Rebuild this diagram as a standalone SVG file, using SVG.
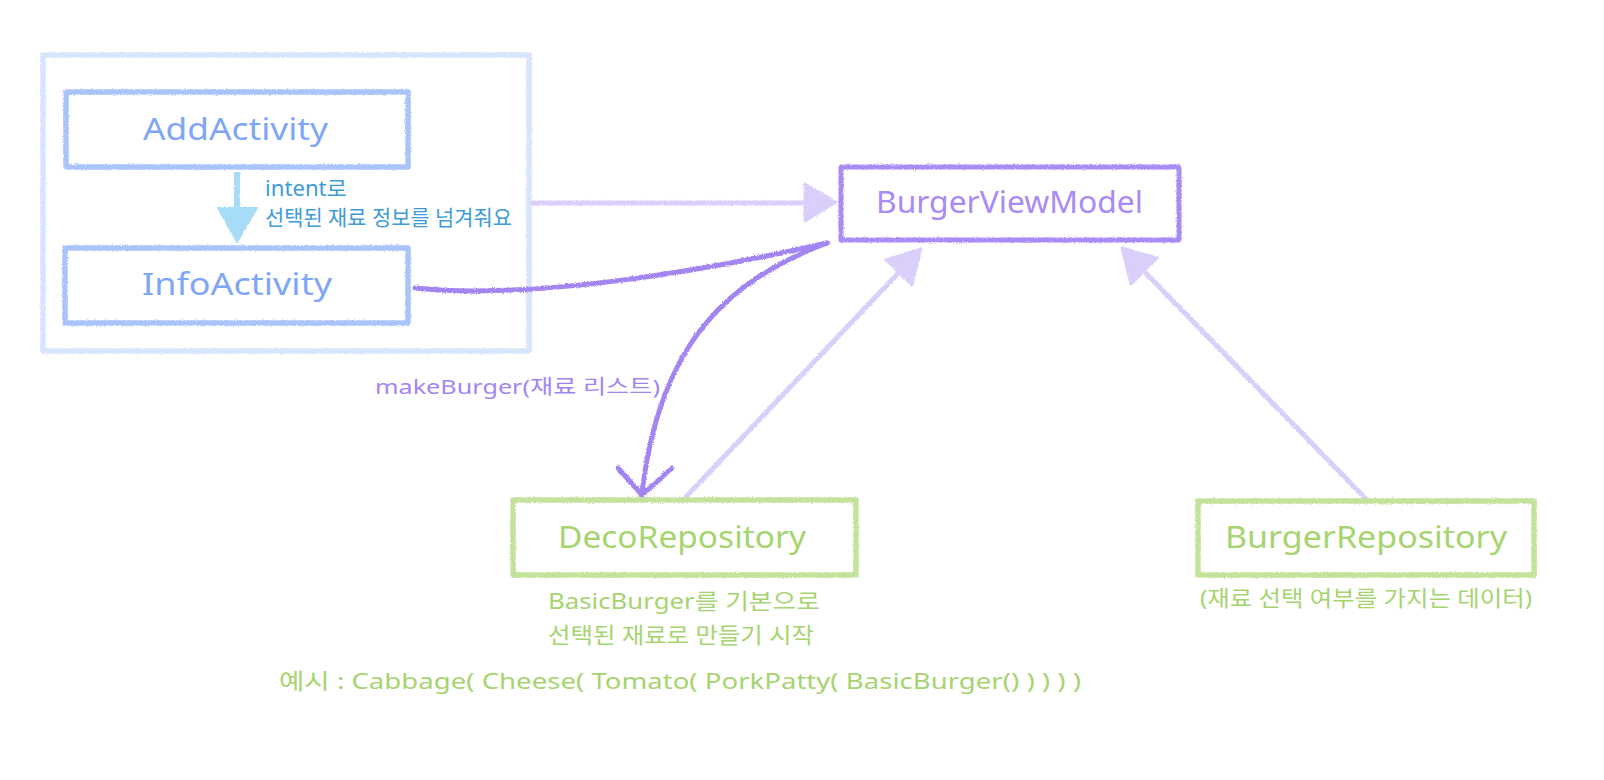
<svg xmlns="http://www.w3.org/2000/svg" width="1604" height="780" viewBox="0 0 1604 780">
<defs>
  <filter id="rough" filterUnits="userSpaceOnUse" x="0" y="0" width="1604" height="780">
    <feTurbulence type="fractalNoise" baseFrequency="0.9" numOctaves="2" seed="4" result="n"/>
    <feDisplacementMap in="SourceGraphic" in2="n" scale="3" xChannelSelector="R" yChannelSelector="G"/>
  </filter>
  <style>
    .box { fill: none; stroke-width: 5.5; stroke-linejoin: round; }
    .container { stroke: #d7e5fc; }
    .act { stroke: #a9c4fa; }
    .vm { stroke: #a88bf4; stroke-width: 5; }
    .repo { stroke: #c3e29c; }
    .t { font-family: "Noto Sans", "Noto Sans CJK KR", sans-serif; }
    .lbl-act { fill: #7fa6f6; font-size: 31px; }
    .lbl-vm { fill: #a88bf4; font-size: 31px; }
    .lbl-repo { fill: #a6d470; font-size: 31px; }
    .note-blue { fill: #3e9bd7; font-size: 21px; }
    .note-purple { fill: #a385f2; font-size: 20px; }
    .note-green { fill: #a6d470; font-size: 22px; }
    .light { stroke: #dacefb; stroke-width: 5; fill: none; stroke-linecap: round; }
    .lighthead { fill: #dacefb; stroke: #dacefb; stroke-width: 3; stroke-linejoin: round; }
    .strong { stroke: #a385f2; stroke-width: 5; fill: none; stroke-linecap: round; stroke-linejoin: round; }
  </style>
</defs>

<g id="container" filter="url(#rough)">
  <rect class="box container" x="43" y="55" width="486" height="296"/>
</g>

<g id="connectors" filter="url(#rough)">
  <!-- AddActivity -> InfoActivity -->
  <line x1="237" y1="172" x2="237" y2="214" stroke="#a6dcf7" stroke-width="6"/>
  <polygon points="218,208 257,208 237,242" fill="#a6dcf7" stroke="#a6dcf7" stroke-width="2" stroke-linejoin="round"/>
  <!-- container -> BurgerViewModel -->
  <line class="light" x1="533" y1="203" x2="812" y2="203"/>
  <polygon class="lighthead" points="836,202 805,184 805,221"/>
  <!-- DecoRepository -> BurgerViewModel -->
  <line class="light" x1="683" y1="500" x2="905" y2="266"/>
  <polygon class="lighthead" points="921,249 912,285 886,260"/>
  <!-- BurgerRepository -> BurgerViewModel -->
  <line class="light" x1="1367" y1="500" x2="1138" y2="265"/>
  <polygon class="lighthead" points="1122,248 1157,258 1131,284"/>
  <!-- InfoActivity -> BurgerViewModel (curve) -->
  <path class="strong" d="M415,288 C530,300 700,272 827,243"/>
  <!-- BurgerViewModel -> DecoRepository (makeBurger) -->
  <path class="strong" d="M827,243 C730,280 660,340 642,493"/>
  <polyline class="strong" points="618,468 642,495 672,468"/>
</g>

<g id="AddActivity">
  <g filter="url(#rough)"><rect class="box act" x="66" y="92" width="342" height="75"/></g>
  <text class="t lbl-act" x="143" y="140" textLength="185" lengthAdjust="spacingAndGlyphs">AddActivity</text>
</g>

<g id="InfoActivity">
  <g filter="url(#rough)"><rect class="box act" x="65" y="248" width="343" height="75"/></g>
  <text class="t lbl-act" x="142" y="295" textLength="190" lengthAdjust="spacingAndGlyphs">InfoActivity</text>
</g>

<g id="intent-label">
  <text class="t note-blue" x="265" y="196" textLength="82" lengthAdjust="spacingAndGlyphs">intent로</text>
  <text class="t note-blue" x="265" y="225" textLength="247" lengthAdjust="spacingAndGlyphs">선택된 재료 정보를 넘겨줘요</text>
</g>

<g id="BurgerViewModel">
  <g filter="url(#rough)"><rect class="box vm" x="841" y="167" width="338" height="73"/></g>
  <text class="t lbl-vm" x="876" y="213" textLength="267" lengthAdjust="spacingAndGlyphs">BurgerViewModel</text>
</g>

<g id="makeBurger-label">
  <text class="t note-purple" x="375" y="394" textLength="285" lengthAdjust="spacingAndGlyphs">makeBurger(재료 리스트)</text>
</g>

<g id="DecoRepository">
  <g filter="url(#rough)"><rect class="box repo" x="513" y="500" width="343" height="75"/></g>
  <text class="t lbl-repo" x="558" y="548" textLength="248" lengthAdjust="spacingAndGlyphs">DecoRepository</text>
  <text class="t note-green" x="548" y="609" textLength="272" lengthAdjust="spacingAndGlyphs">BasicBurger를 기본으로</text>
  <text class="t note-green" x="548" y="643" textLength="266" lengthAdjust="spacingAndGlyphs">선택된 재료로 만들기 시작</text>
</g>

<g id="example">
  <text class="t note-green" x="279" y="689" textLength="802" lengthAdjust="spacingAndGlyphs">예시 : Cabbage( Cheese( Tomato( PorkPatty( BasicBurger() ) ) ) )</text>
</g>

<g id="BurgerRepository">
  <g filter="url(#rough)"><rect class="box repo" x="1198" y="501" width="336" height="74"/></g>
  <text class="t lbl-repo" x="1225" y="548" textLength="282" lengthAdjust="spacingAndGlyphs">BurgerRepository</text>
  <text class="t note-green" x="1200" y="606" textLength="332" lengthAdjust="spacingAndGlyphs">(재료 선택 여부를 가지는 데이터)</text>
</g>
</svg>
